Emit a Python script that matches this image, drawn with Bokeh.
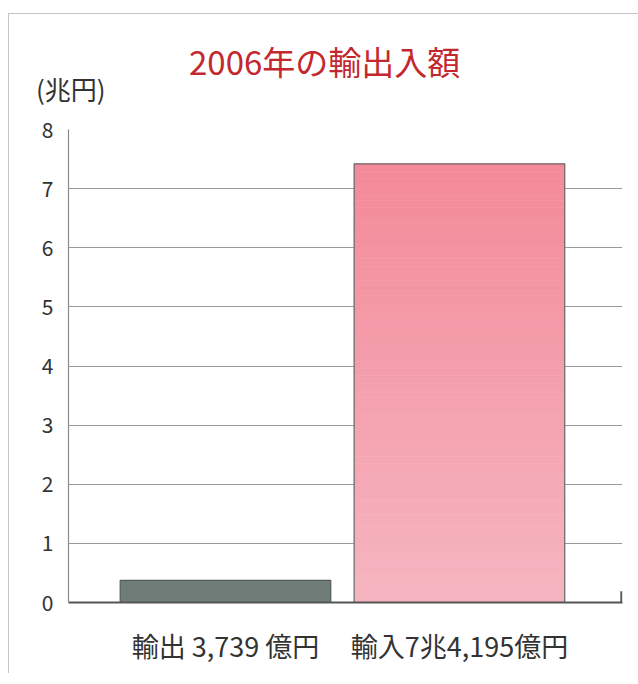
from bokeh.plotting import figure
from bokeh.layouts import column
from bokeh.models import Range1d, FixedTicker, ColumnDataSource, Div
from bokeh.embed import file_html
from bokeh.resources import INLINE

# ---- data ----
categories = ["輸出 3,739 億円", "輸入7兆4,195億円"]
values = [0.3739, 7.4195]          # 兆円
y_ticks = [0, 1, 2, 3, 4, 5, 6, 7, 8]
title_text = "2006年の輸出入額"
unit_text = "(兆円)"

FONT = "Noto Sans CJK JP"
positions = [1, 2]
bar_width = 0.9
x_start, x_end = 0.329, 2.697
baseline_end = 2.692
end_tick_h = 0.19

W = 629
HEAD_H = 85

# ---- header (title + unit), real text ----
head_html = (
    f'<div style="position:relative;width:{W}px;height:{HEAD_H}px;">'
    f'<span style="position:absolute;left:175px;top:26px;font-family:\'{FONT}\';'
    f'font-size:33px;line-height:33px;color:#c3282f;white-space:nowrap;">{title_text}</span>'
    f'<span style="position:absolute;left:22px;top:57px;font-family:\'{FONT}\';'
    f'font-size:26px;line-height:26px;color:#333333;white-space:nowrap;">{unit_text}</span>'
    '</div>'
)
head = Div(text=head_html, width=W, height=HEAD_H)

# ---- chart ----
p = figure(width=W, height=564, output_backend="svg", toolbar_location=None,
           x_range=Range1d(x_start, x_end), y_range=Range1d(0, 8),
           min_border_left=59, min_border_right=16, min_border_top=20,
           min_border_bottom=71)
p.outline_line_color = None
p.background_fill_color = "white"
p.border_fill_color = "white"

# grid
p.xgrid.grid_line_color = None
p.ygrid.ticker = FixedTicker(ticks=y_ticks)
p.ygrid.grid_line_color = "#9a9a9a"
p.ygrid.grid_line_width = 1.2

# y axis
p.yaxis.ticker = FixedTicker(ticks=y_ticks)
p.yaxis.axis_line_color = "#8a8a8a"
p.yaxis.axis_line_width = 1.2
p.yaxis.major_tick_line_color = None
p.yaxis.minor_tick_line_color = None
p.yaxis.major_label_text_font = FONT
p.yaxis.major_label_text_font_size = "21px"
p.yaxis.major_label_text_color = "#333333"
p.yaxis.major_label_standoff = 9

# x axis
p.xaxis.ticker = FixedTicker(ticks=positions)
p.xaxis.major_label_overrides = {pos: lab for pos, lab in zip(positions, categories)}
p.xaxis.axis_line_color = "#555555"
p.xaxis.axis_line_width = 2
p.xaxis.major_tick_line_color = None
p.xaxis.minor_tick_line_color = None
p.xaxis.major_label_text_font = FONT
p.xaxis.major_label_text_font_size = "27px"
p.xaxis.major_label_text_color = "#333333"
p.xaxis.major_label_standoff = 17

# small upward tick at the right end of the baseline
p.segment(x0=[baseline_end], y0=[0], x1=[baseline_end], y1=[end_tick_h],
          line_color="#555555", line_width=2)

# export bar (gray)
p.vbar(x=[positions[0]], top=[values[0]], bottom=0, width=bar_width,
       fill_color="#6f7c77", line_color="#545a58", line_width=1.2)

# import bar (pink vertical gradient drawn as slices)
n = 60
top_rgb = (244, 138, 153)
bot_rgb = (246, 182, 193)
xs, bots, tops, cols = [], [], [], []
for i in range(n):
    f0 = i / n
    f1 = (i + 1) / n
    t = (f0 + f1) / 2
    r = int(bot_rgb[0] + (top_rgb[0] - bot_rgb[0]) * t)
    g = int(bot_rgb[1] + (top_rgb[1] - bot_rgb[1]) * t)
    b = int(bot_rgb[2] + (top_rgb[2] - bot_rgb[2]) * t)
    xs.append(positions[1])
    bots.append(values[1] * f0)
    tops.append(values[1] * f1)
    cols.append("#%02x%02x%02x" % (r, g, b))
src = ColumnDataSource(dict(x=xs, bottom=bots, top=tops, color=cols))
p.vbar(x="x", bottom="bottom", top="top", width=bar_width, fill_color="color",
       line_color="color", line_width=0.6, source=src)
p.vbar(x=[positions[1]], top=[values[1]], bottom=0, width=bar_width,
       fill_color=None, line_color="#6a6a6a", line_width=1.2)

layout = column(head, p, spacing=0)
layout.styles = {"margin-top": "13px", "margin-left": "8px",
                 "border-top": "1px solid #c4c4c4", "border-left": "1px solid #c4c4c4"}

open("out.html", "w").write(file_html(layout, INLINE))
